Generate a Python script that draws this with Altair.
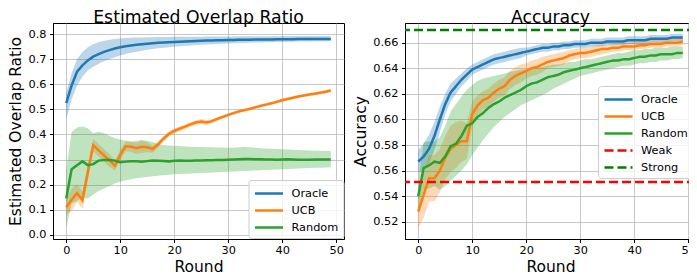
import altair as alt
import pandas as pd

rounds = list(range(50))

# ---------- Left panel: Estimated Overlap Ratio ----------
ovl_oracle = [0.525, 0.595, 0.650, 0.675, 0.695, 0.710, 0.720, 0.729, 0.736, 0.742,
              0.747, 0.751, 0.754, 0.757, 0.759, 0.761, 0.763, 0.765, 0.766, 0.767,
              0.768, 0.769, 0.770, 0.771, 0.772, 0.773, 0.774, 0.774, 0.775, 0.775,
              0.776, 0.776, 0.777, 0.777, 0.777, 0.778, 0.778, 0.778, 0.778, 0.779,
              0.779, 0.779, 0.779, 0.780, 0.780, 0.780, 0.780, 0.780, 0.780, 0.780]
ovl_oracle_lo = [0.460, 0.540, 0.595, 0.630, 0.655, 0.670, 0.682, 0.692, 0.700, 0.707,
                 0.714, 0.720, 0.725, 0.729, 0.733, 0.737, 0.740, 0.743, 0.745, 0.747,
                 0.749, 0.751, 0.753, 0.754, 0.756, 0.757, 0.758, 0.759, 0.760, 0.761,
                 0.762, 0.763, 0.764, 0.764, 0.765, 0.766, 0.766, 0.767, 0.767, 0.768,
                 0.768, 0.769, 0.769, 0.770, 0.770, 0.770, 0.771, 0.771, 0.771, 0.772]
ovl_oracle_hi = [0.565, 0.645, 0.700, 0.728, 0.747, 0.759, 0.767, 0.773, 0.777, 0.780,
                 0.782, 0.784, 0.785, 0.786, 0.786, 0.787, 0.787, 0.788, 0.788, 0.788,
                 0.789, 0.789, 0.789, 0.789, 0.789, 0.789, 0.790, 0.790, 0.790, 0.790,
                 0.790, 0.790, 0.791, 0.791, 0.791, 0.791, 0.791, 0.791, 0.791, 0.791,
                 0.792, 0.792, 0.792, 0.792, 0.792, 0.792, 0.792, 0.792, 0.792, 0.792]

ovl_ucb = [0.110, 0.140, 0.167, 0.138, 0.250, 0.357, 0.337, 0.317, 0.297, 0.276,
           0.318, 0.353, 0.351, 0.345, 0.351, 0.349, 0.342, 0.360, 0.383, 0.402,
           0.414, 0.423, 0.431, 0.440, 0.448, 0.452, 0.448, 0.453, 0.462, 0.470,
           0.478, 0.485, 0.492, 0.497, 0.502, 0.508, 0.514, 0.519, 0.524, 0.530,
           0.536, 0.541, 0.546, 0.551, 0.555, 0.559, 0.562, 0.566, 0.570, 0.575]
ovl_ucb_sd = [0.030, 0.045, 0.035, 0.035, 0.030, 0.025, 0.025, 0.025, 0.025, 0.020,
              0.020, 0.020, 0.020, 0.022, 0.025, 0.020, 0.015, 0.012, 0.010, 0.010,
              0.010, 0.010, 0.009, 0.009, 0.009, 0.010, 0.010, 0.008, 0.007, 0.007,
              0.006, 0.006, 0.006, 0.006, 0.006, 0.006, 0.006, 0.006, 0.006, 0.006,
              0.006, 0.006, 0.006, 0.006, 0.006, 0.006, 0.006, 0.006, 0.006, 0.006]

ovl_random = [0.145, 0.262, 0.278, 0.293, 0.278, 0.282, 0.296, 0.298, 0.298, 0.296,
              0.290, 0.292, 0.293, 0.293, 0.292, 0.294, 0.296, 0.295, 0.294, 0.293,
              0.295, 0.296, 0.295, 0.295, 0.296, 0.296, 0.297, 0.297, 0.298, 0.298,
              0.299, 0.300, 0.301, 0.302, 0.302, 0.301, 0.301, 0.300, 0.300, 0.299,
              0.300, 0.301, 0.300, 0.299, 0.299, 0.299, 0.300, 0.300, 0.300, 0.300]
ovl_random_lo = [0.030, 0.125, 0.135, 0.150, 0.145, 0.160, 0.175, 0.185, 0.195, 0.205,
                 0.212, 0.218, 0.222, 0.226, 0.229, 0.231, 0.234, 0.236, 0.238, 0.240,
                 0.242, 0.243, 0.244, 0.245, 0.246, 0.247, 0.248, 0.249, 0.250, 0.251,
                 0.252, 0.253, 0.254, 0.255, 0.256, 0.257, 0.258, 0.259, 0.260, 0.261,
                 0.262, 0.263, 0.264, 0.265, 0.266, 0.267, 0.268, 0.268, 0.269, 0.270]
ovl_random_hi = [0.260, 0.410, 0.428, 0.432, 0.425, 0.405, 0.412, 0.405, 0.395, 0.385,
                 0.380, 0.375, 0.372, 0.375, 0.378, 0.375, 0.370, 0.362, 0.358, 0.356,
                 0.355, 0.354, 0.352, 0.351, 0.350, 0.350, 0.349, 0.349, 0.348, 0.348,
                 0.347, 0.347, 0.349, 0.350, 0.349, 0.347, 0.345, 0.344, 0.343, 0.342,
                 0.341, 0.340, 0.339, 0.338, 0.337, 0.336, 0.335, 0.335, 0.334, 0.334]

# ---------- Right panel: Accuracy ----------
acc_oracle = [0.567, 0.571, 0.577, 0.587, 0.600, 0.612, 0.621, 0.626, 0.631, 0.635,
              0.639, 0.641, 0.643, 0.645, 0.647, 0.648, 0.649, 0.650, 0.651, 0.652,
              0.653, 0.654, 0.655, 0.656, 0.656, 0.657, 0.657, 0.658, 0.658, 0.659,
              0.659, 0.659, 0.660, 0.660, 0.660, 0.661, 0.661, 0.661, 0.661, 0.662,
              0.662, 0.662, 0.662, 0.663, 0.663, 0.663, 0.663, 0.664, 0.664, 0.664]
acc_oracle_sd = [0.009, 0.010, 0.011, 0.011, 0.010, 0.008, 0.007, 0.006, 0.005, 0.005,
                 0.004, 0.004, 0.004, 0.004, 0.004, 0.004, 0.004, 0.004, 0.004, 0.004,
                 0.003, 0.003, 0.003, 0.003, 0.003, 0.003, 0.003, 0.003, 0.003, 0.003,
                 0.003, 0.003, 0.003, 0.003, 0.003, 0.003, 0.003, 0.003, 0.003, 0.003,
                 0.003, 0.003, 0.003, 0.003, 0.003, 0.003, 0.003, 0.003, 0.003, 0.003]

acc_ucb = [0.528, 0.541, 0.554, 0.554, 0.560, 0.570, 0.577, 0.580, 0.583, 0.583,
           0.604, 0.611, 0.615, 0.617, 0.621, 0.624, 0.626, 0.631, 0.634, 0.636,
           0.638, 0.640, 0.641, 0.643, 0.645, 0.646, 0.647, 0.648, 0.650, 0.651,
           0.652, 0.652, 0.653, 0.654, 0.655, 0.655, 0.656, 0.656, 0.657, 0.657,
           0.657, 0.658, 0.658, 0.659, 0.659, 0.659, 0.660, 0.660, 0.660, 0.661]
acc_ucb_sd = [0.013, 0.018, 0.018, 0.018, 0.017, 0.017, 0.018, 0.018, 0.016, 0.014,
              0.010, 0.008, 0.007, 0.007, 0.007, 0.007, 0.007, 0.007, 0.007, 0.007,
              0.006, 0.006, 0.006, 0.006, 0.005, 0.005, 0.005, 0.005, 0.004, 0.004,
              0.004, 0.004, 0.004, 0.004, 0.004, 0.003, 0.003, 0.003, 0.003, 0.003,
              0.003, 0.003, 0.003, 0.003, 0.003, 0.003, 0.003, 0.003, 0.003, 0.003]

acc_random = [0.540, 0.562, 0.564, 0.567, 0.566, 0.571, 0.579, 0.581, 0.587, 0.595,
              0.597, 0.602, 0.605, 0.609, 0.612, 0.614, 0.617, 0.619, 0.621, 0.623,
              0.626, 0.628, 0.629, 0.631, 0.633, 0.634, 0.635, 0.637, 0.638, 0.639,
              0.640, 0.641, 0.642, 0.643, 0.644, 0.645, 0.646, 0.646, 0.647, 0.647,
              0.648, 0.649, 0.649, 0.650, 0.650, 0.651, 0.651, 0.651, 0.652, 0.652]
acc_random_lo = [0.530, 0.545, 0.546, 0.548, 0.545, 0.548, 0.552, 0.556, 0.560, 0.565,
                 0.572, 0.578, 0.584, 0.589, 0.594, 0.598, 0.602, 0.605, 0.608, 0.611,
                 0.613, 0.615, 0.617, 0.619, 0.621, 0.624, 0.626, 0.628, 0.630, 0.632,
                 0.634, 0.635, 0.636, 0.637, 0.638, 0.639, 0.640, 0.641, 0.642, 0.642,
                 0.643, 0.644, 0.644, 0.645, 0.645, 0.646, 0.646, 0.647, 0.647, 0.648]
acc_random_hi = [0.552, 0.582, 0.583, 0.583, 0.586, 0.595, 0.606, 0.612, 0.618, 0.623,
                 0.627, 0.630, 0.632, 0.633, 0.634, 0.635, 0.636, 0.637, 0.638, 0.639,
                 0.639, 0.640, 0.641, 0.641, 0.642, 0.643, 0.643, 0.644, 0.645, 0.645,
                 0.646, 0.647, 0.647, 0.648, 0.649, 0.650, 0.651, 0.652, 0.652, 0.653,
                 0.654, 0.654, 0.655, 0.655, 0.656, 0.656, 0.656, 0.657, 0.657, 0.657]

baseline_names = ["Weak", "Strong"]
baseline_values = [0.551, 0.670]

method_names = ["Oracle", "UCB", "Random"]
all_names = method_names + baseline_names
colors = ["#1f77b4", "#ff7f0e", "#2ca02c", "#ff0000", "#008000"]
dashes = [[1, 0], [1, 0], [1, 0], [9, 4], [9, 4]]

x_ticks = [0, 10, 20, 30, 40, 50]
left_y_ticks = [0.0, 0.1, 0.2, 0.3, 0.4, 0.5, 0.6, 0.7, 0.8]
right_y_ticks = [0.52, 0.54, 0.56, 0.58, 0.60, 0.62, 0.64, 0.66]


def build(names, means, los, his):
    rows = []
    for name, m, lo, hi in zip(names, means, los, his):
        for r, a, b, c in zip(rounds, m, lo, hi):
            rows.append({"round": r, "series": name, "band": name,
                         "mean": a, "lo": b, "hi": c})
    return pd.DataFrame(rows)


left_df = build(
    method_names,
    [ovl_oracle, ovl_ucb, ovl_random],
    [ovl_oracle_lo, [m - s for m, s in zip(ovl_ucb, ovl_ucb_sd)], ovl_random_lo],
    [ovl_oracle_hi, [m + s for m, s in zip(ovl_ucb, ovl_ucb_sd)], ovl_random_hi],
)
right_df = build(
    method_names,
    [acc_oracle, acc_ucb, acc_random],
    [[m - s for m, s in zip(acc_oracle, acc_oracle_sd)],
     [m - s for m, s in zip(acc_ucb, acc_ucb_sd)], acc_random_lo],
    [[m + s for m, s in zip(acc_oracle, acc_oracle_sd)],
     [m + s for m, s in zip(acc_ucb, acc_ucb_sd)], acc_random_hi],
)
base_df = pd.DataFrame({"series": baseline_names, "v": baseline_values})

FONT = "DejaVu Sans"
PW, PH = 291, 216


def xenc():
    return alt.X("round:Q",
                 scale=alt.Scale(domain=[-2.45, 51.45], nice=False, zero=False),
                 axis=alt.Axis(values=x_ticks, title="Round", format="d",
                               labelPadding=1.5))


def legend(lx, ly):
    return alt.Legend(title=None, orient="none", legendX=lx, legendY=ly,
                      symbolType="M-1,0H3", symbolSize=196, symbolStrokeWidth=2.5,
                      labelOffset=21, labelFont=FONT, labelFontSize=11.3,
                      labelColor="black", rowPadding=3, padding=5,
                      fillColor="rgba(255,255,255,0.8)", strokeColor="#cccccc",
                      cornerRadius=3)


# band fill scale uses reversed domain order so it never merges with the line legend
band_scale = alt.Scale(domain=method_names[::-1], range=colors[:3][::-1])

# Left chart
lscale = alt.Scale(domain=method_names, range=colors[:3])
lyscale = alt.Scale(domain=[-0.016, 0.8438], nice=False, zero=False)
laxis = alt.Axis(values=left_y_ticks, format=".1f", title="Estimated Overlap Ratio")
l_band = alt.Chart(left_df).mark_area(opacity=0.3).encode(
    x=xenc(),
    y=alt.Y("lo:Q", scale=lyscale, axis=laxis),
    y2="hi:Q",
    fill=alt.Fill("band:N", scale=band_scale, legend=None),
)
l_line = alt.Chart(left_df).mark_line(strokeWidth=2.5).encode(
    x=xenc(),
    y=alt.Y("mean:Q", scale=lyscale, axis=laxis),
    color=alt.Color("series:N", scale=lscale, legend=legend(195.5, 157)),
)
left = alt.layer(l_band, l_line).properties(
    width=PW, height=PH,
    title=alt.Title("Estimated Overlap Ratio", fontSize=17.3, font=FONT,
                    fontWeight="normal", color="black", offset=-3),
)

# Right chart
rscale = alt.Scale(domain=all_names, range=colors)
dscale = alt.Scale(domain=all_names, range=dashes)
ryscale = alt.Scale(domain=[0.5065, 0.6754], nice=False, zero=False)
raxis = alt.Axis(values=right_y_ticks, format=".2f", title="Accuracy")
r_band = alt.Chart(right_df).mark_area(opacity=0.3).encode(
    x=xenc(),
    y=alt.Y("lo:Q", scale=ryscale, axis=raxis),
    y2="hi:Q",
    fill=alt.Fill("band:N", scale=band_scale, legend=None),
)
r_line = alt.Chart(right_df).mark_line(strokeWidth=2.5).encode(
    x=xenc(),
    y=alt.Y("mean:Q", scale=ryscale, axis=raxis),
    color=alt.Color("series:N", scale=rscale, legend=legend(193, 63)),
    strokeDash=alt.StrokeDash("series:N", scale=dscale, legend=legend(193, 63)),
)
r_rule = alt.Chart(base_df).mark_rule(strokeWidth=2.5).encode(
    y=alt.Y("v:Q", scale=ryscale, axis=raxis),
    color=alt.Color("series:N", scale=rscale, legend=legend(193, 63)),
    strokeDash=alt.StrokeDash("series:N", scale=dscale, legend=legend(193, 63)),
)
right = alt.layer(r_band, r_line, r_rule).properties(
    width=PW, height=PH,
    title=alt.Title("Accuracy", fontSize=17.3, font=FONT,
                    fontWeight="normal", color="black", offset=-3),
)

chart = alt.hconcat(left, right, spacing=7).resolve_scale(
    color="independent", strokeDash="independent", fill="independent"
).properties(
    padding={"left": 0, "top": 0, "right": -9, "bottom": 0},
    background="white",
).configure_axis(
    labelFont=FONT, labelFontSize=11.3, labelColor="black",
    titleFont=FONT, titleFontSize=15.5, titleFontWeight="normal", titleColor="black",
    tickColor="black", tickSize=3.5, labelPadding=3.5, titlePadding=4.5,
    domainColor="black", domainWidth=1,
    gridColor="#b0b0b0", gridOpacity=0.7, gridWidth=1,
).configure_view(stroke="black", strokeWidth=1)

chart.save("out.html", embed_options={"renderer": "svg", "actions": False})
